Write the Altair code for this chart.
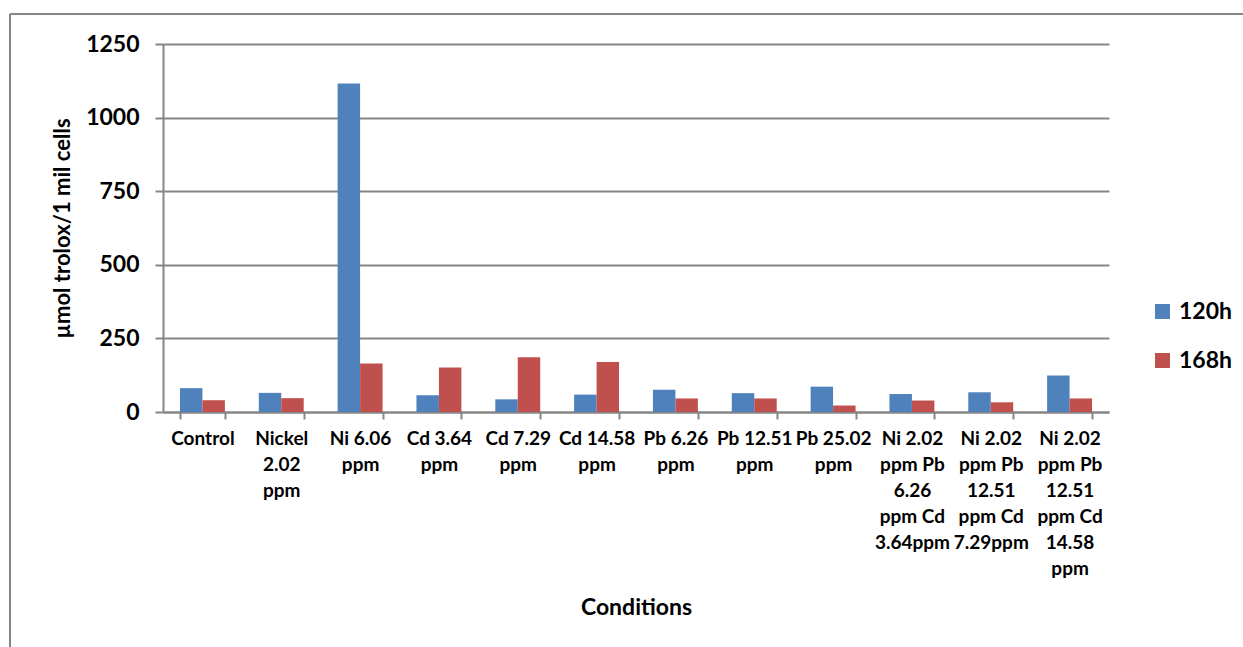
import altair as alt
import pandas as pd

# Treatment conditions (line breaks as printed under each group)
conditions = [
    "Control",
    "Nickel\n2.02\nppm",
    "Ni 6.06\nppm",
    "Cd 3.64\nppm",
    "Cd 7.29\nppm",
    "Cd 14.58\nppm",
    "Pb 6.26\nppm",
    "Pb 12.51\nppm",
    "Pb 25.02\nppm",
    "Ni 2.02\nppm Pb\n6.26\nppm Cd\n3.64ppm",
    "Ni 2.02\nppm Pb\n12.51\nppm Cd\n7.29ppm",
    "Ni 2.02\nppm Pb\n12.51\nppm Cd\n14.58\nppm",
]

# Antioxidant capacity, µmol trolox per 1 million cells
values_120h = [81, 65, 1116, 57, 43, 59, 76, 64, 86, 61, 67, 124]
values_168h = [40, 47, 165, 151, 186, 170, 46, 46, 22, 39, 33, 46]

series = ["120h", "168h"]
colors = ["#4F81BD", "#C0504D"]

rows = []
for i, c in enumerate(conditions):
    rows.append({"condition": c, "time": "120h", "value": values_120h[i]})
    rows.append({"condition": c, "time": "168h", "value": values_168h[i]})
df = pd.DataFrame(rows)

FONT = "Lato"
GRAY = "#868686"

bars = alt.Chart(df).mark_bar().encode(
    x=alt.X(
        "condition:N",
        sort=conditions,
        scale=alt.Scale(paddingInner=0.43, paddingOuter=0.215),
        axis=alt.Axis(
            title="Conditions",
            titleFont=FONT, titleFontSize=23, titleFontWeight="bold", titleColor="black",
            titleBaseline="middle", titleY=195,
            labelExpr="split(datum.label, '\\n')",
            labelFont=FONT, labelFontSize=19, labelFontWeight="bold", labelColor="black",
            labelLineHeight=26, labelAngle=0, labelPadding=10, labelLimit=0,
            labelBaseline="top",
            tickBand="extent", tickSize=7, tickColor=GRAY, tickWidth=2,
            domainColor=GRAY, domainWidth=2, grid=False,
        ),
    ),
    xOffset=alt.XOffset("time:N", sort=series),
    y=alt.Y(
        "value:Q",
        scale=alt.Scale(domain=[0, 1250], nice=False),
        axis=alt.Axis(
            title="µmol trolox/1 mil cells",
            titleFont=FONT, titleFontSize=22, titleFontWeight="bold", titleColor="black",
            titleX=-101, titleY=184, titleBaseline="middle",
            values=[0, 250, 500, 750, 1000, 1250], format="d",
            labelFont=FONT, labelFontSize=23, labelFontWeight="bold", labelColor="black",
            labelPadding=16,
            tickSize=8, tickColor=GRAY, tickWidth=2,
            domainColor=GRAY, domainWidth=2,
            grid=True, gridColor=GRAY, gridWidth=2,
        ),
    ),
    color=alt.Color(
        "time:N",
        scale=alt.Scale(domain=series, range=colors),
        legend=alt.Legend(
            title=None, orient="none", legendX=988, legendY=256,
            symbolType="square", symbolSize=225, symbolStrokeWidth=0,
            labelFont=FONT, labelFontSize=23, labelFontWeight="bold", labelColor="black",
            labelOffset=5, rowPadding=25,
        ),
    ),
)

# Outer frame lines (left and top edges of the chart box)
frame_left = alt.Chart(df).mark_rule(color=GRAY, strokeWidth=2).encode(
    x=alt.value(-153), y=alt.value(-30), y2=alt.value(700)
)
frame_top = alt.Chart(df).mark_rule(color=GRAY, strokeWidth=2).encode(
    x=alt.value(-153), x2=alt.value(1200), y=alt.value(-30)
)

chart = (
    alt.layer(frame_left, frame_top, bars)
    .properties(
        width=946,
        height=368,
        autosize=alt.AutoSizeParams(type="none"),
        padding={"left": 163, "top": 44, "right": 134, "bottom": 235},
        background="white",
    )
    .configure_view(stroke=None)
)

chart.save("out.html", embed_options={"renderer": "svg", "actions": False})
